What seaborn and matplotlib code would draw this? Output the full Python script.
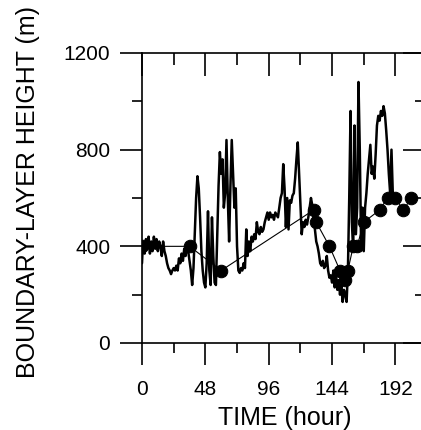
import matplotlib
matplotlib.use("Agg")
import matplotlib.pyplot as plt
import seaborn as sns
import pandas as pd
from matplotlib.ticker import MultipleLocator

# ---- data ----
hours = [0, 0.5,
         1, 2, 3, 4, 5, 6, 7, 8, 9, 10,
         11, 12, 13, 14, 15, 16, 17, 18, 19, 20,
         21, 22, 23, 24, 25, 26, 27, 28, 29, 30,
         31, 32, 33, 34, 35, 36, 37, 38, 39, 40,
         41, 42, 43, 44, 45, 46, 47, 48, 49, 50,
         51, 52, 53, 54, 55, 56, 57, 58, 59, 60,
         61, 62, 63, 64, 65, 66, 67, 68, 69, 70,
         71, 72, 73, 74, 75, 76, 77, 78, 79, 80,
         81, 82, 83, 84, 85, 86, 87, 88, 89, 90,
         91, 92, 93, 94, 95, 96, 97, 98, 99, 100,
         101, 102, 103, 104, 105, 106, 107, 108, 109, 110,
         111, 112, 113, 114, 115, 116, 117, 118, 119, 120,
         121, 122, 123, 124, 125, 126, 127, 128, 129, 130,
         131, 132, 133, 134, 135, 136, 137, 138, 139, 140,
         141, 142, 143, 144, 145, 146, 147, 148, 149, 150,
         151, 152, 153, 154, 155, 156, 157, 158, 159, 160,
         161, 162, 163, 164, 165, 166, 167, 168, 169, 170,
         171, 172, 173, 174, 175, 176, 177, 178, 179, 180,
         181, 182, 183, 184, 185, 186, 187, 188, 189, 190,
         191]
height = [330, 390,
          410, 370, 430, 390, 440, 370, 420, 380, 440, 390,
          430, 380, 420, 400, 360, 420, 380, 360, 330, 310,
          300, 285, 300, 310, 300, 320, 300, 350, 330, 370,
          340, 390, 360, 400, 380, 340, 300, 240, 310, 450,
          600, 690, 640, 520, 380, 300, 250, 230, 330, 545,
          300, 240, 520, 360, 250, 240, 450, 650, 790, 700,
          760, 560, 620, 840, 600, 420, 650, 840, 700, 560,
          640, 400, 300, 290, 310, 300, 330, 310, 470, 360,
          420, 380, 440, 420, 450, 430, 500, 460, 450, 480,
          460, 470, 500, 520, 540, 510, 540, 520, 530, 510,
          540, 530, 520, 560, 600, 620, 740, 640, 480, 600,
          470, 590, 580, 610, 620, 680, 760, 830, 700, 560,
          450, 500, 480, 510, 490, 520, 560, 600, 570, 510,
          470, 420, 400, 370, 330, 320, 340, 310, 320, 360,
          300, 270, 280, 250, 300, 230, 280, 220, 260, 200,
          240, 170, 220, 200, 170, 300, 600, 960, 500, 380,
          900, 450, 560, 1080, 800, 400, 560, 380, 560, 620,
          700, 760, 820, 700, 730, 680, 780, 900, 940, 920,
          960, 940, 980, 950, 880, 800, 700, 620, 800, 620,
          600]
sonde_hours = [0, 36, 60, 130, 132, 142, 150, 154, 156, 160, 163, 168, 180,
               186, 192, 198, 204]
sonde_height = [400, 400, 300, 550, 500, 400, 300, 260, 300, 400, 400, 500,
                550, 600, 600, 550, 600]
x_ticks = [0, 48, 96, 144, 192]
y_ticks = [0, 400, 800, 1200]
x_label = "TIME (hour)"
y_label = "BOUNDARY-LAYER HEIGHT (m)"

sns.set_theme(style="ticks")
plt.rcParams["font.family"] = ["Liberation Sans", "DejaVu Sans"]

fig = plt.figure(figsize=(4.21, 4.30), dpi=100)
ax = fig.add_axes([142 / 421, 87 / 430, 283 / 421, 290 / 430])

cont = pd.DataFrame({"t": hours, "h": height})
sonde = pd.DataFrame({"t": sonde_hours, "h": sonde_height})

sns.lineplot(data=cont, x="t", y="h", ax=ax, color="black", linewidth=1.8,
             sort=False, estimator=None)
sns.lineplot(data=sonde, x="t", y="h", ax=ax, color="black", linewidth=0.8,
             marker="o", markersize=9, markeredgecolor="black",
             markerfacecolor="black", sort=False, estimator=None)

ax.set_xlim(0, 214.4)
ax.set_ylim(0, 1200)
ax.set_xticks(x_ticks)
ax.set_yticks(y_ticks)
ax.xaxis.set_minor_locator(MultipleLocator(24))
ax.yaxis.set_minor_locator(MultipleLocator(200))
ax.tick_params(which="major", direction="out", length=15.8, width=1.2,
               color="black", labelsize=15, labelcolor="black")
ax.tick_params(which="minor", direction="out", length=7.2, width=1.2,
               color="black")
ax.tick_params(axis="y", which="major", pad=7)
ax.tick_params(axis="x", which="major", pad=11)
for s in ["top", "right"]:
    ax.spines[s].set_visible(False)
for s in ["left", "bottom"]:
    ax.spines[s].set_linewidth(1.2)
    ax.spines[s].set_color("black")

top = ax.secondary_xaxis("top")
top.set_xticks(x_ticks)
top.xaxis.set_minor_locator(MultipleLocator(24))
top.tick_params(which="major", direction="in", length=16.5, width=1.2,
                color="black", labeltop=False)
top.tick_params(which="minor", direction="in", length=8.6, width=1.2,
                color="black")
top.spines["top"].set_linewidth(1.2)
top.spines["top"].set_color("black")

right = ax.secondary_yaxis("right")
right.set_yticks(y_ticks)
right.yaxis.set_minor_locator(MultipleLocator(200))
right.tick_params(which="major", direction="in", length=15.8, width=1.2,
                  color="black", labelright=False)
right.tick_params(which="minor", direction="in", length=7.2, width=1.2,
                  color="black")

ax.set_xlabel(x_label, fontsize=18, color="black")
ax.set_ylabel(y_label, fontsize=18, color="black")
ax.xaxis.set_label_coords(0.505, -0.216)
ax.yaxis.set_label_coords(-0.36, 0.52)

fig.savefig("out.png", dpi=100)
